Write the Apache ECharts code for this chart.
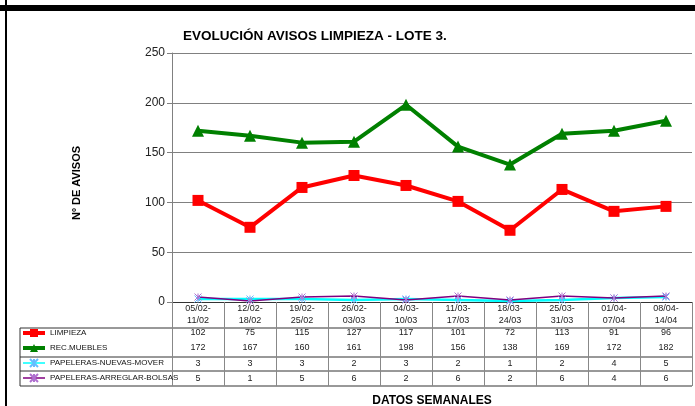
<!DOCTYPE html>
<html>
<head>
<meta charset="utf-8">
<title>Evolución avisos limpieza</title>
<script src="https://cdn.jsdelivr.net/npm/echarts@6/dist/echarts.min.js"></script>
<style>
  html, body { margin: 0; padding: 0; background: #fff; }
  #chart { width: 695px; height: 406px; }
</style>
</head>
<body>
<div id="chart"></div>
<script>
// semanas
const weeks = ['05/02-\n11/02', '12/02-\n18/02', '19/02-\n25/02', '26/02-\n03/03', '04/03-\n10/03',
  '11/03-\n17/03', '18/03-\n24/03', '25/03-\n31/03', '01/04-\n07/04', '08/04-\n14/04'];
const limpieza = [102, 75, 115, 127, 117, 101, 72, 113, 91, 96];
const recMuebles = [172, 167, 160, 161, 198, 156, 138, 169, 172, 182];
const nuevasMover = [3, 3, 3, 2, 3, 2, 1, 2, 4, 5];
const arreglarBolsas = [5, 1, 5, 6, 2, 6, 2, 6, 4, 6];
const yTicks = [0, 50, 100, 150, 200, 250];

const SANS = 'Liberation Sans';
const STAR = 'path://M0,0L10,10M10,0L0,10M5,0L5,10';

// layout of the plot and the data table under it
const G = { left: 172, right: 3, top: 53, height: 249 };
const W = 695;
const zeroY = G.top + G.height;
const tableLeft = 20;
const rowY = [31, 46, 62, 77];           // text centre of each table row, below the axis
const rowLines = [26, 55, 69, 84];       // horizontal separators, below the axis

const chart = echarts.init(document.getElementById('chart'));

// numbers in the table, placed through the category axis
function tableSeries(values, row) {
  return {
    type: 'custom',
    silent: true,
    clip: false,
    data: values.map((v, i) => [i, v]),
    renderItem(params, api) {
      const x = api.coord([api.value(0), 0])[0];
      const y0 = api.coord([0, 0])[1];
      return {
        type: 'text',
        x: x,
        y: y0 + rowY[row],
        style: {
          text: String(api.value(1)),
          align: 'center',
          verticalAlign: 'middle',
          fontFamily: SANS,
          fontSize: 9,
          fill: '#222'
        }
      };
    }
  };
}

const lines = [];
rowLines.forEach(d => {
  lines.push({
    type: 'line',
    shape: { x1: tableLeft, y1: zeroY + d, x2: W - G.right, y2: zeroY + d },
    style: { stroke: '#333', lineWidth: 1 }
  });
});
lines.push({
  type: 'line',
  shape: { x1: tableLeft, y1: zeroY + rowLines[0], x2: tableLeft, y2: zeroY + rowLines[3] },
  style: { stroke: '#333', lineWidth: 1 }
});

const option = {
  animation: false,
  title: {
    text: 'EVOLUCIÓN AVISOS LIMPIEZA - LOTE 3.',
    left: 178,
    top: 24,
    textStyle: { fontFamily: SANS, fontSize: 13.5, fontWeight: 'bold', color: '#000' }
  },
  legend: {
    orient: 'vertical',
    left: 21,
    top: zeroY + 25,
    padding: 0,
    itemWidth: 22,
    itemHeight: 10,
    itemGap: 3,
    selectedMode: false,
    data: [
      { name: 'LIMPIEZA', lineStyle: { width: 4 } },
      { name: 'REC.MUEBLES', lineStyle: { width: 4 } },
      { name: 'PAPELERAS-NUEVAS-MOVER', lineStyle: { width: 1.5 } },
      { name: 'PAPELERAS-ARREGLAR-BOLSAS', lineStyle: { width: 1.5 } }
    ],
    textStyle: { fontFamily: SANS, fontSize: 8, lineHeight: 12, color: '#111' }
  },
  grid: { left: G.left, right: G.right, top: G.top, height: G.height, outerBoundsMode: 'none' },
  graphic: [
    { type: 'rect', shape: { x: 0, y: 5, width: W, height: 6 }, style: { fill: '#000' } },
    { type: 'rect', shape: { x: 5, y: 0, width: 2, height: 406 }, style: { fill: '#000' } },
    {
      type: 'text', x: 77, y: 183, rotation: Math.PI / 2,
      style: {
        text: 'Nº DE AVISOS', align: 'center', verticalAlign: 'middle',
        fontFamily: SANS, fontSize: 11, fontWeight: 'bold', fill: '#000'
      }
    }
  ].concat(lines),
  xAxis: {
    type: 'category',
    data: weeks,
    boundaryGap: true,
    name: 'DATOS SEMANALES',
    nameLocation: 'middle',
    nameGap: 93,
    nameTextStyle: { fontFamily: SANS, fontSize: 12, fontWeight: 'bold', color: '#000' },
    axisLine: { lineStyle: { color: '#333', width: 1 } },
    axisTick: { show: true, interval: 0, length: 84, lineStyle: { color: '#888' } },
    axisLabel: {
      interval: 0,
      margin: 1,
      fontFamily: SANS,
      fontSize: 9,
      lineHeight: 12,
      color: '#222'
    },
    splitLine: { show: false }
  },
  yAxis: {
    type: 'value',
    min: yTicks[0],
    max: yTicks[yTicks.length - 1],
    interval: 50,
    axisLine: { show: true, lineStyle: { color: '#808080' } },
    axisTick: { show: true, length: 5, lineStyle: { color: '#808080' } },
    axisLabel: { margin: 7, fontFamily: SANS, fontSize: 12, color: '#222' },
    splitLine: { show: true, lineStyle: { color: '#808080', width: 1 } }
  },
  series: [
    {
      name: 'LIMPIEZA',
      type: 'line',
      data: limpieza,
      symbol: 'rect',
      symbolSize: 11,
      z: 4,
      lineStyle: { color: '#ff0000', width: 4 },
      itemStyle: { color: '#ff0000' }
    },
    {
      name: 'REC.MUEBLES',
      type: 'line',
      data: recMuebles,
      symbol: 'triangle',
      symbolSize: 12,
      z: 4,
      lineStyle: { color: '#008000', width: 4 },
      itemStyle: { color: '#008000' }
    },
    {
      name: 'PAPELERAS-NUEVAS-MOVER',
      type: 'line',
      data: nuevasMover,
      symbol: STAR,
      symbolSize: 7,
      z: 3,
      lineStyle: { color: '#00ffff', width: 2.5 },
      itemStyle: { color: 'transparent', borderColor: '#66bbff', borderWidth: 1 }
    },
    {
      name: 'PAPELERAS-ARREGLAR-BOLSAS',
      type: 'line',
      data: arreglarBolsas,
      symbol: STAR,
      symbolSize: 7,
      z: 3,
      lineStyle: { color: '#800080', width: 1.5 },
      itemStyle: { color: 'transparent', borderColor: '#b070d0', borderWidth: 1 }
    },
    tableSeries(limpieza, 0),
    tableSeries(recMuebles, 1),
    tableSeries(nuevasMover, 2),
    tableSeries(arreglarBolsas, 3)
  ]
};

chart.setOption(option);
</script>
</body>
</html>
